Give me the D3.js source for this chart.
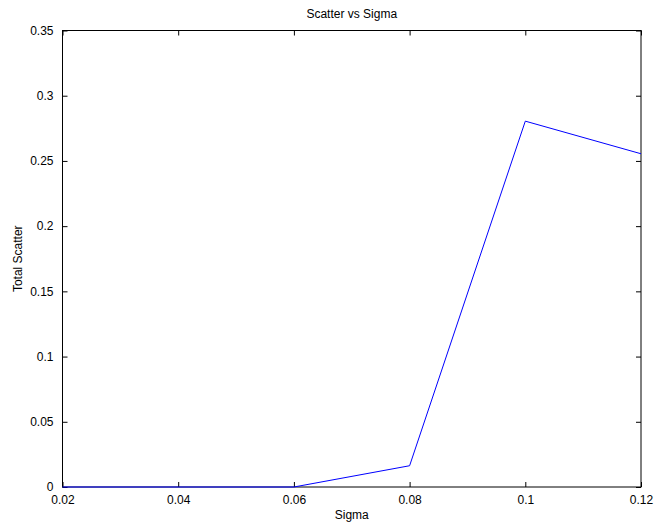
<!DOCTYPE html>
<html><head><meta charset="utf-8">
<script src="https://cdn.jsdelivr.net/npm/d3@7"></script>
<style>body{margin:0;background:#fff}svg{display:block}text{font-family:"Liberation Sans",Arial,sans-serif;fill:#000}</style>
</head><body><svg id="c" width="657" height="529"></svg>
<script>
const sigma = [0.02, 0.04, 0.06, 0.08, 0.10, 0.12];
const scatter = [0, 0, 0, 0.0163, 0.2805, 0.2555];
const xTicks = [0.02, 0.04, 0.06, 0.08, 0.1, 0.12];
const xTickLabels = ["0.02", "0.04", "0.06", "0.08", "0.1", "0.12"];
const yTicks = [0, 0.05, 0.1, 0.15, 0.2, 0.25, 0.3, 0.35];
const yTickLabels = ["0", "0.05", "0.1", "0.15", "0.2", "0.25", "0.3", "0.35"];

const L = 62.5, R = 641, T = 30.5, B = 487;
const svg = d3.select("#c");
const x = d3.scaleLinear().domain([0.02, 0.12]).range([L, R]);
const y = d3.scaleLinear().domain([0, 0.35]).range([B, T]);
const fs = 12, tl = 5;

const g = svg.append("g");
g.append("rect").attr("x", L).attr("y", T).attr("width", R - L).attr("height", B - T)
  .attr("fill", "none").attr("stroke", "#000").attr("stroke-width", 1);

const xb = d3.axisBottom(x).tickValues(xTicks).tickSize(-tl).tickPadding(tl + 3)
  .tickFormat((d, i) => xTickLabels[i]);
const xt = d3.axisTop(x).tickValues(xTicks).tickSize(-tl).tickFormat("");
const yl = d3.axisLeft(y).tickValues(yTicks).tickSize(-tl).tickPadding(tl + 4)
  .tickFormat((d, i) => yTickLabels[i]);
const yr = d3.axisRight(y).tickValues(yTicks).tickSize(-tl).tickFormat("");

function style(sel) {
  sel.select(".domain").remove();
  sel.selectAll("line").attr("stroke", "#000");
  sel.selectAll("text").attr("font-size", fs).attr("fill", "#000")
    .style("font-family", '"Liberation Sans",Arial,sans-serif');
}
g.append("g").attr("transform", `translate(0,${B})`).call(xb).call(style);
g.append("g").attr("transform", `translate(0,${T})`).call(xt).call(style);
g.append("g").attr("transform", `translate(${L},0)`).call(yl).call(style);
g.append("g").attr("transform", `translate(${R},0)`).call(yr).call(style);

const line = d3.line().x((d, i) => x(sigma[i])).y(d => y(d));
g.append("path").datum(scatter).attr("d", line)
  .attr("fill", "none").attr("stroke", "#0000ff").attr("stroke-width", 1);

svg.append("text").attr("x", (L + R) / 2).attr("y", 18).attr("text-anchor", "middle")
  .attr("font-size", fs).text("Scatter vs Sigma");
svg.append("text").attr("x", (L + R) / 2).attr("y", 519).attr("text-anchor", "middle")
  .attr("font-size", fs).text("Sigma");
svg.append("text").attr("transform", `translate(22,${(T + B) / 2}) rotate(-90)`)
  .attr("text-anchor", "middle").attr("font-size", fs).text("Total Scatter");
</script></body></html>
